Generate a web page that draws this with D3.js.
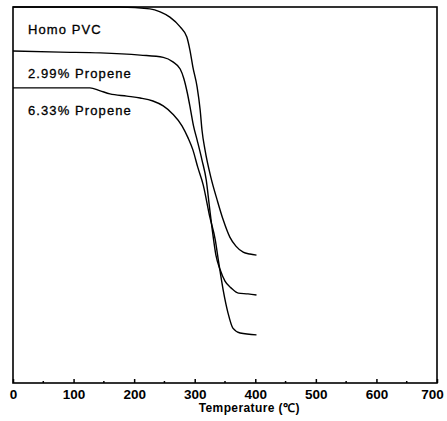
<!DOCTYPE html>
<html>
<head>
<meta charset="utf-8">
<script src="https://cdn.jsdelivr.net/npm/d3@7"></script>
<style>
	body { margin: 0; background: #fff; }
	svg { display: block; }
	text { font-family: "Liberation Sans", Arial, sans-serif; fill: #000; }
</style>
</head>
<body>
<svg id="chart" width="447" height="421"></svg>
<script>
/*=================
=== Data
=================*/
const seriesNames = ['Homo PVC', '2.99% Propene', '6.33% Propene'];

const homoTemp = [0, 177, 226, 243, 259, 276, 287, 292, 297, 304, 309, 312, 317, 327, 337, 347, 358, 368, 380, 391, 402];
const homoWeight = [100, 100, 99.5, 98.7, 97.3, 94.7, 92.0, 88.6, 84.0, 78.7, 72.6, 67.3, 62.0, 54.5, 48.7, 43.4, 38.8, 36.4, 34.8, 34.3, 34.0];

const p299Temp = [0, 78, 144, 210, 248, 264, 276, 282, 288, 293, 298, 304, 312, 319, 324, 329, 335, 342, 350, 360, 372, 388, 402];
const p299Weight = [88.3, 88.0, 87.8, 87.2, 86.6, 85.4, 83.5, 81.0, 77.0, 72.8, 68.4, 64.6, 59.3, 54.0, 47.3, 40.7, 34.0, 30.1, 27.1, 25.3, 23.9, 23.7, 23.4];

const p633Temp = [0, 127, 144, 160, 188, 210, 231, 248, 264, 279, 289, 297, 305, 314, 325, 334, 339, 347, 355, 363, 375, 402];
const p633Weight = [78.5, 78.5, 77.7, 76.9, 76.3, 75.8, 75.0, 73.7, 71.5, 68.4, 65.2, 62.0, 57.4, 52.7, 44.1, 38.0, 32.7, 24.7, 18.6, 14.6, 13.3, 12.8];

const xTicks = [0, 100, 200, 300, 400, 500, 600, 700];
const xMinorTicks = [50, 150, 250, 350, 450, 550, 650];

/*=================
=== Chart setup
=================*/
const margin = { top: 7, right: 10, bottom: 38, left: 13 };
const width = 447 - margin.left - margin.right;
const height = 421 - margin.top - margin.bottom;

const svg = d3.select('#chart');
const g = svg.append('g')
	.attr('transform', `translate(${margin.left}, ${margin.top})`);

const xScale = d3.scaleLinear().domain([0, 700]).range([0, width]);
const yScale = d3.scaleLinear().domain([0, 100]).range([height, 0]);

// frame
g.append('rect')
	.attr('x', 0).attr('y', 0)
	.attr('width', width).attr('height', height)
	.attr('fill', 'none')
	.attr('stroke', '#000')
	.attr('stroke-width', 1.6);

// bottom axis, ticks pointing inward
const xAxis = g.append('g')
	.attr('transform', `translate(0, ${height})`)
	.call(d3.axisBottom(xScale).tickValues(xTicks).tickSizeInner(-4).tickSizeOuter(0).tickPadding(6));
xAxis.select('.domain').remove();
xAxis.selectAll('line').attr('stroke-width', 1.5);
xAxis.selectAll('text')
	.style('font-size', '13.5px')
	.style('font-weight', 'bold')
	.style('font-family', '"Liberation Sans Narrow", "Liberation Sans", sans-serif')
	.attr('dx', d => d === 700 ? -5 : 0); // last label sits a bit inside, as in the scan

g.append('g')
	.selectAll('line')
	.data(xMinorTicks)
	.enter()
	.append('line')
	.attr('x1', d => xScale(d)).attr('x2', d => xScale(d))
	.attr('y1', height).attr('y2', height - 2)
	.attr('stroke', '#000')
	.attr('stroke-width', 1.5);

g.append('text')
	.attr('x', xScale(390))
	.attr('y', height + 29)
	.attr('text-anchor', 'middle')
	.style('font-size', '12px')
	.style('font-weight', 'bold')
	.style('letter-spacing', '0.4px')
	.text('Temperature (℃)');

/*=================
=== Curves
=================*/
const series = [
	{ name: seriesNames[0], temp: homoTemp, weight: homoWeight },
	{ name: seriesNames[1], temp: p299Temp, weight: p299Weight },
	{ name: seriesNames[2], temp: p633Temp, weight: p633Weight },
];

const line = d3.line()
	.x(d => xScale(d[0]))
	.y(d => yScale(d[1]))
	.curve(d3.curveMonotoneX);

g.selectAll('.curve')
	.data(series)
	.enter()
	.append('path')
	.attr('class', 'curve')
	.attr('d', s => line(s.temp.map((t, i) => [t, s.weight[i]])))
	.attr('fill', 'none')
	.attr('stroke', '#000')
	.attr('stroke-width', 1.4);

// labels sit under each curve's starting plateau
g.selectAll('.label')
	.data(series)
	.enter()
	.append('text')
	.attr('class', 'label')
	.attr('x', 15)
	.attr('y', s => yScale(s.weight[0]) + 27)
	.style('font-size', '13px')
	.style('letter-spacing', '1.1px')
	.style('stroke', '#000')
	.style('stroke-width', 0.3)
	.text(s => s.name);
</script>
</body>
</html>
